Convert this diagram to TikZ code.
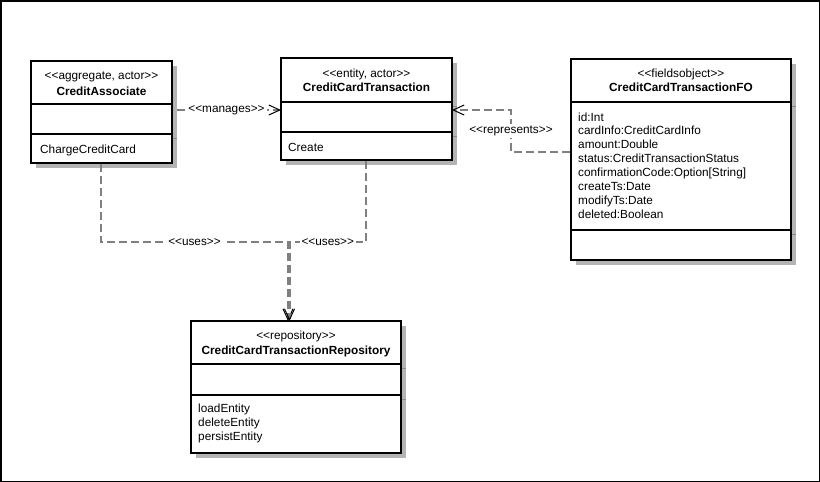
\documentclass[tikz,border=0pt]{standalone}
\usepackage{fontspec}
\setmainfont{Liberation Sans}
\usetikzlibrary{arrows.meta,shadows}
\newcommand{\stL}{<\kern0pt<}
\newcommand{\stR}{>\kern0pt>}
\definecolor{depgray}{HTML}{808080}
\definecolor{shadowgray}{HTML}{B4B4B4}
\definecolor{tickgray}{HTML}{8C8C8C}
\tikzset{
  umlbox/.style={draw=black, line width=2pt, fill=white, rectangle, inner sep=0pt, outer sep=0pt, anchor=north west,
    drop shadow={shadow xshift=5pt, shadow yshift=-5pt, fill=shadowgray, opacity=1}},
  compline/.style={draw=black, line width=2pt},
  shadetick/.style={draw=tickgray, line width=1pt},
  txt/.style={font=\fontsize{11.8}{14}\selectfont, inner sep=0pt, text=black},
  stereo/.style={txt, anchor=base},
  cname/.style={txt, anchor=base, font=\fontsize{11.8}{14}\selectfont\bfseries},
  member/.style={txt, anchor=base west},
  dep/.style={draw=depgray, line width=2pt, dash pattern=on 8pt off 4pt, shorten <=1pt,
    -{Straight Barb[length=11pt, width=10pt, line width=1pt, color=black]}},
  deplbl/.style={txt, fill=white, inner sep=2pt},
}
\begin{document}
\begin{tikzpicture}[x=1pt, y=-1pt]
\useasboundingbox (0,0) rectangle (820,482);
\draw[black, line width=1.5pt] (0.75,0.75) rectangle (819.25,481.25);

% CreditAssociate
\node[umlbox, minimum width=141pt, minimum height=102pt] (ca) at (31,61) {};
\draw[compline] (ca.west |- 0,104) -- (ca.east |- 0,104);
\draw[compline] (ca.west |- 0,134) -- (ca.east |- 0,134);
\draw[shadetick] (173,138.5) -- (177,138.5);
\node[stereo] (ca-st) at (101.5,79) {\stL aggregate, actor\stR};
\node[cname] (ca-nm) at (101.5,95) {CreditAssociate};
\node[member] (ca-op) at (40,153) {ChargeCreditCard};

% CreditCardTransaction
\node[umlbox, minimum width=171pt, minimum height=102pt] (cct) at (281,58) {};
\draw[compline] (cct.west |- 0,102) -- (cct.east |- 0,102);
\draw[compline] (cct.west |- 0,132) -- (cct.east |- 0,132);
\draw[shadetick] (453,106.5) -- (457,106.5);
\draw[shadetick] (453,136.5) -- (457,136.5);
\node[stereo] (cct-st) at (366.5,77) {\stL entity, actor\stR};
\node[cname] (cct-nm) at (366.5,91) {CreditCardTransaction};
\node[member] (cct-op) at (288,151) {Create};

% CreditCardTransactionFO
\node[umlbox, minimum width=220pt, minimum height=201pt] (fo) at (571,59) {};
\draw[compline] (fo.west |- 0,102) -- (fo.east |- 0,102);
\draw[compline] (fo.west |- 0,230) -- (fo.east |- 0,230);
\draw[shadetick] (792,106.5) -- (796,106.5);
\draw[shadetick] (792,234.5) -- (796,234.5);
\node[stereo] (fo-st) at (681,77) {\stL fieldsobject\stR};
\node[cname] (fo-nm) at (681,91) {CreditCardTransactionFO};
\foreach \t [count=\i] in {id:Int, cardInfo:CreditCardInfo, amount:Double, status:CreditTransactionStatus, confirmationCode:Option[String], createTs:Date, modifyTs:Date, deleted:Boolean}
  \node[member] (fo-a\i) at (578, 121+13.9*\i-13.9) {\t};

% CreditCardTransactionRepository
\node[umlbox, minimum width=210pt, minimum height=132pt] (repo) at (191,321) {};
\draw[compline] (repo.west |- 0,364) -- (repo.east |- 0,364);
\draw[compline] (repo.west |- 0,395) -- (repo.east |- 0,395);
\draw[shadetick] (402,368.5) -- (406,368.5);
\draw[shadetick] (402,399.5) -- (406,399.5);
\node[stereo] (repo-st) at (296,339) {\stL repository\stR};
\node[cname] (repo-nm) at (296,354) {CreditCardTransactionRepository};
\node[member] (repo-o1) at (198,412) {loadEntity};
\node[member] (repo-o2) at (198,426) {deleteEntity};
\node[member] (repo-o3) at (198,440) {persistEntity};

% connectors
\coordinate (j1) at (288,242);
\coordinate (j2) at (289.5,242);
\coordinate (j3) at (511,110);
\draw[dep, shorten <=5pt] (ca.east |- 0,110) -- node[deplbl] (lbl-man) {\stL manages\stR} (cct.west |- 0,110);
\draw[dep] (ca.south -| 101,0) |- node[deplbl, pos=0.75] (lbl-u1) {\stL uses\stR} (j1) -- (repo.north -| j1);
\draw[dep] (cct.south -| 366,0) |- node[deplbl, pos=0.75] (lbl-u2) {\stL uses\stR} (j2) -- (repo.north -| j2);
\draw[dep] (fo.west |- 0,152) -| node[deplbl, pos=0.75] (lbl-rep) {\stL represents\stR} (j3) -- (cct.east |- j3);
\end{tikzpicture}
\end{document}
